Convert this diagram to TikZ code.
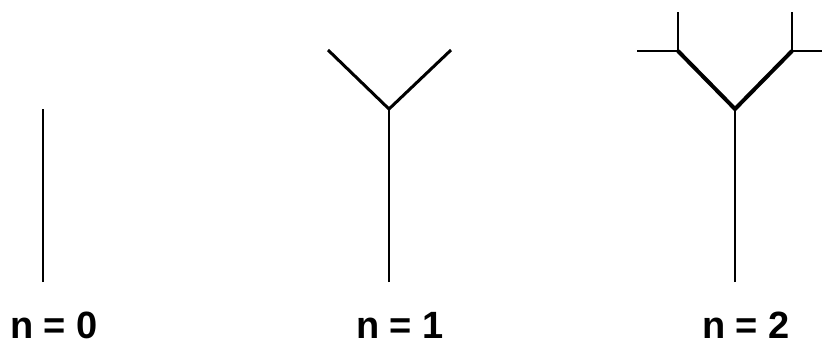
\documentclass[tikz,border=0pt]{standalone}
\usepackage{fontspec}
\setmainfont{Liberation Sans}
\usepackage{tikz}

\begin{document}
\begin{tikzpicture}[x=1pt,y=-1pt,line cap=butt]
  \useasboundingbox (0,0) rectangle (822,343);

  % troncos de las tres etapas
  \foreach \x/\n in {43/0,389/1,735/2} {
    \coordinate (base\n) at (\x,282);
    \coordinate (top\n) at (\x,109);
    \draw[line width=2pt] (base\n) -- (top\n);
    \node[anchor=base west,inner sep=0pt,font=\fontsize{38}{40}\selectfont\bfseries]
      (lbl\n) at (\x-33,338) {n = \n};
  }

  % etapa n=1
  \draw[line width=3pt] (328,50) -- (top1) -- (451,50);

  % etapa n=2
  \coordinate (izq) at (678,51);
  \coordinate (der) at (792,51);
  \coordinate (borde) at (822,51);
  \draw[line width=2.5pt] (izq) -- ++(0,-39) (izq) -- ++(-41,0);
  \draw[line width=2.5pt] (der) -- ++(0,-39) (der) -- (borde);
  \draw[line width=4pt,line join=miter] (izq) -- (top2) -- (der);
\end{tikzpicture}
\end{document}
